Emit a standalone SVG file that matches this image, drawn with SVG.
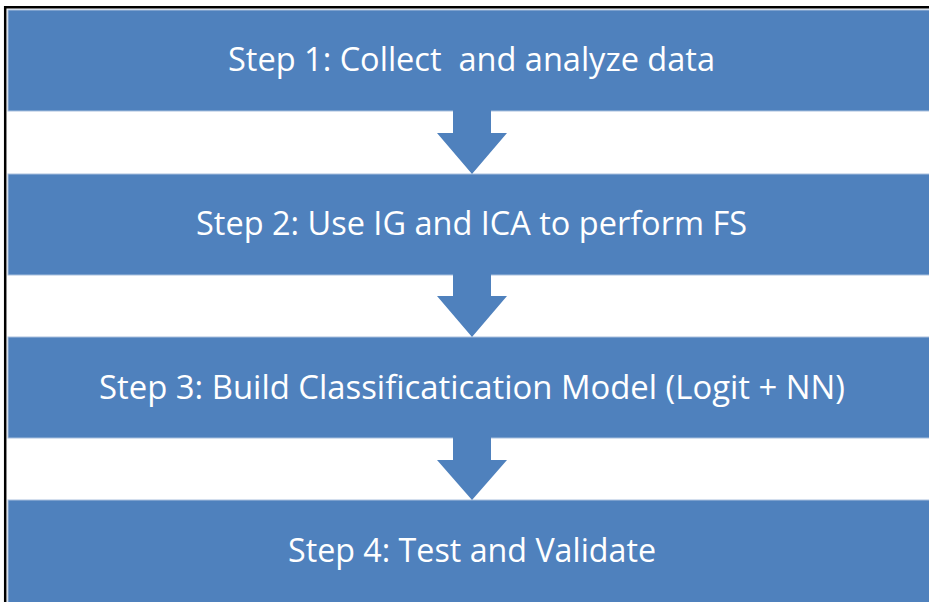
<svg xmlns="http://www.w3.org/2000/svg" width="929" height="602" viewBox="0 0 929 602">
  <style>
    .box { fill: #4F81BD; stroke: #A9C0DE; stroke-width: 1; }
    .arrow { fill: #4F81BD; stroke: none; }
    .label { fill: #FFFFFF; font-family: "Open Sans", "Noto Sans", "Liberation Sans", sans-serif; font-size: 32px; text-anchor: middle; white-space: pre; }
    .frame { stroke: #000000; stroke-width: 2.5; fill: none; }
  </style>
  <rect width="929" height="602" fill="#FFFFFF"/>
  <g id="frame">
    <line class="frame" x1="4" y1="7.2" x2="929" y2="7.2"/>
    <line class="frame" x1="5.2" y1="6" x2="5.2" y2="602"/>
  </g>
  <g id="step1">
    <rect class="box" x="8" y="10" width="930" height="101"/>
    <text class="label" x="471.5" y="71" textLength="487" lengthAdjust="spacingAndGlyphs" xml:space="preserve">Step 1: Collect  and analyze data</text>
  </g>
  <g id="step2">
    <rect class="box" x="8" y="174" width="930" height="101"/>
    <text class="label" x="471.5" y="235" textLength="551" lengthAdjust="spacingAndGlyphs">Step 2: Use IG and ICA to perform FS</text>
  </g>
  <g id="step3">
    <rect class="box" x="8" y="337" width="930" height="101"/>
    <text class="label" x="472" y="398.5" textLength="746" lengthAdjust="spacingAndGlyphs">Step 3: Build Classificatication Model (Logit + NN)</text>
  </g>
  <g id="step4">
    <rect class="box" x="8" y="500" width="930" height="104"/>
    <text class="label" x="472" y="561.5" textLength="368" lengthAdjust="spacingAndGlyphs">Step 4: Test and Validate</text>
  </g>
  <g id="connectors">
    <path class="arrow" d="M453,110 H491 V133 H507 L472,174 L437,133 H453 Z"/>
    <path class="arrow" d="M453,274 H491 V296 H507 L472,337 L437,296 H453 Z"/>
    <path class="arrow" d="M453,437 H491 V460 H507 L472,500 L437,460 H453 Z"/>
  </g>
</svg>
